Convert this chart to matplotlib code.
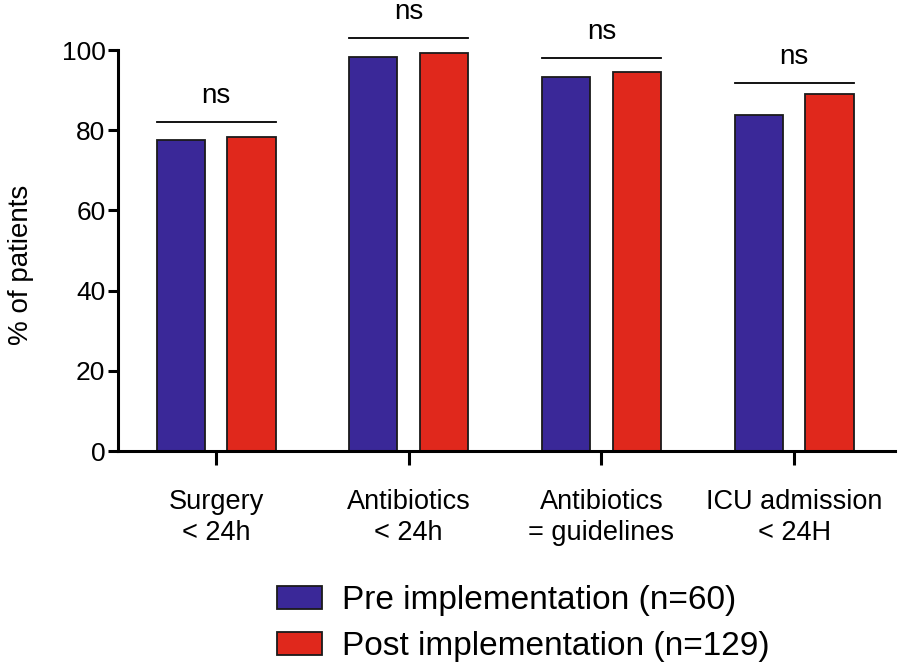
import matplotlib
matplotlib.use("Agg")
import matplotlib.pyplot as plt
import matplotlib.patches as mpatches
import numpy as np

plt.rcParams["font.family"] = ["Liberation Sans", "DejaVu Sans"]

# data
categories = ["Surgery\n< 24h", "Antibiotics\n< 24h", "Antibiotics\n= guidelines", "ICU admission\n< 24H"]
pre_values = [77.6, 98.3, 93.3, 83.8]
post_values = [78.3, 99.3, 94.5, 89.0]
sig_labels = ["ns", "ns", "ns", "ns"]
sig_heights = [82.0, 103.0, 98.0, 91.8]
series_labels = ["Pre implementation (n=60)", "Post implementation (n=129)"]

BLUE = "#3a2898"
RED = "#e0281c"
EDGE = "#1a1a1a"

fig = plt.figure(figsize=(8.98, 6.65), dpi=100)
ax = fig.add_axes([0.1314, 0.3218, 0.8653, 0.6030])

x = np.arange(len(categories))
off = 0.184
w = 0.25
ax.bar(x - off, pre_values, w, color=BLUE, edgecolor=EDGE, linewidth=1.3, zorder=2)
ax.bar(x + off, post_values, w, color=RED, edgecolor=EDGE, linewidth=1.3, zorder=2)

for xi, h, lab in zip(x, sig_heights, sig_labels):
    ax.plot([xi - off - w / 2, xi + off + w / 2], [h, h], color="black",
            linewidth=1.3, clip_on=False)
    ax.text(xi, h + 3.2, lab, ha="center", va="bottom", fontsize=20, clip_on=False)

ax.set_xlim(-0.509, 3.524)
ax.set_ylim(0, 100)
ax.set_yticks([0, 20, 40, 60, 80, 100])
ax.set_xticks(x)
ax.set_xticklabels(categories, fontsize=19.5, linespacing=1.25)
ax.tick_params(axis="y", labelsize=19, width=2.2, length=7, direction="out", pad=2)
ax.tick_params(axis="x", width=2.2, length=10, direction="out", pad=17)

for s in ["top", "right"]:
    ax.spines[s].set_visible(False)
for s in ["left", "bottom"]:
    ax.spines[s].set_linewidth(2.2)

ax.set_ylabel("% of patients", fontsize=20)
ax.yaxis.set_label_coords(-0.108, 0.464)

handles = [mpatches.Patch(facecolor=BLUE, edgecolor=EDGE, linewidth=1.3, label=series_labels[0]),
           mpatches.Patch(facecolor=RED, edgecolor=EDGE, linewidth=1.3, label=series_labels[1])]
fig.legend(handles=handles, loc="upper left", bbox_to_anchor=(0.308, 0.12),
           frameon=False, fontsize=24, handlelength=1.35, handleheight=0.7,
           handletextpad=0.62, labelspacing=0.45, borderaxespad=0, borderpad=0)

fig.savefig("out.png", dpi=100, facecolor="white")
